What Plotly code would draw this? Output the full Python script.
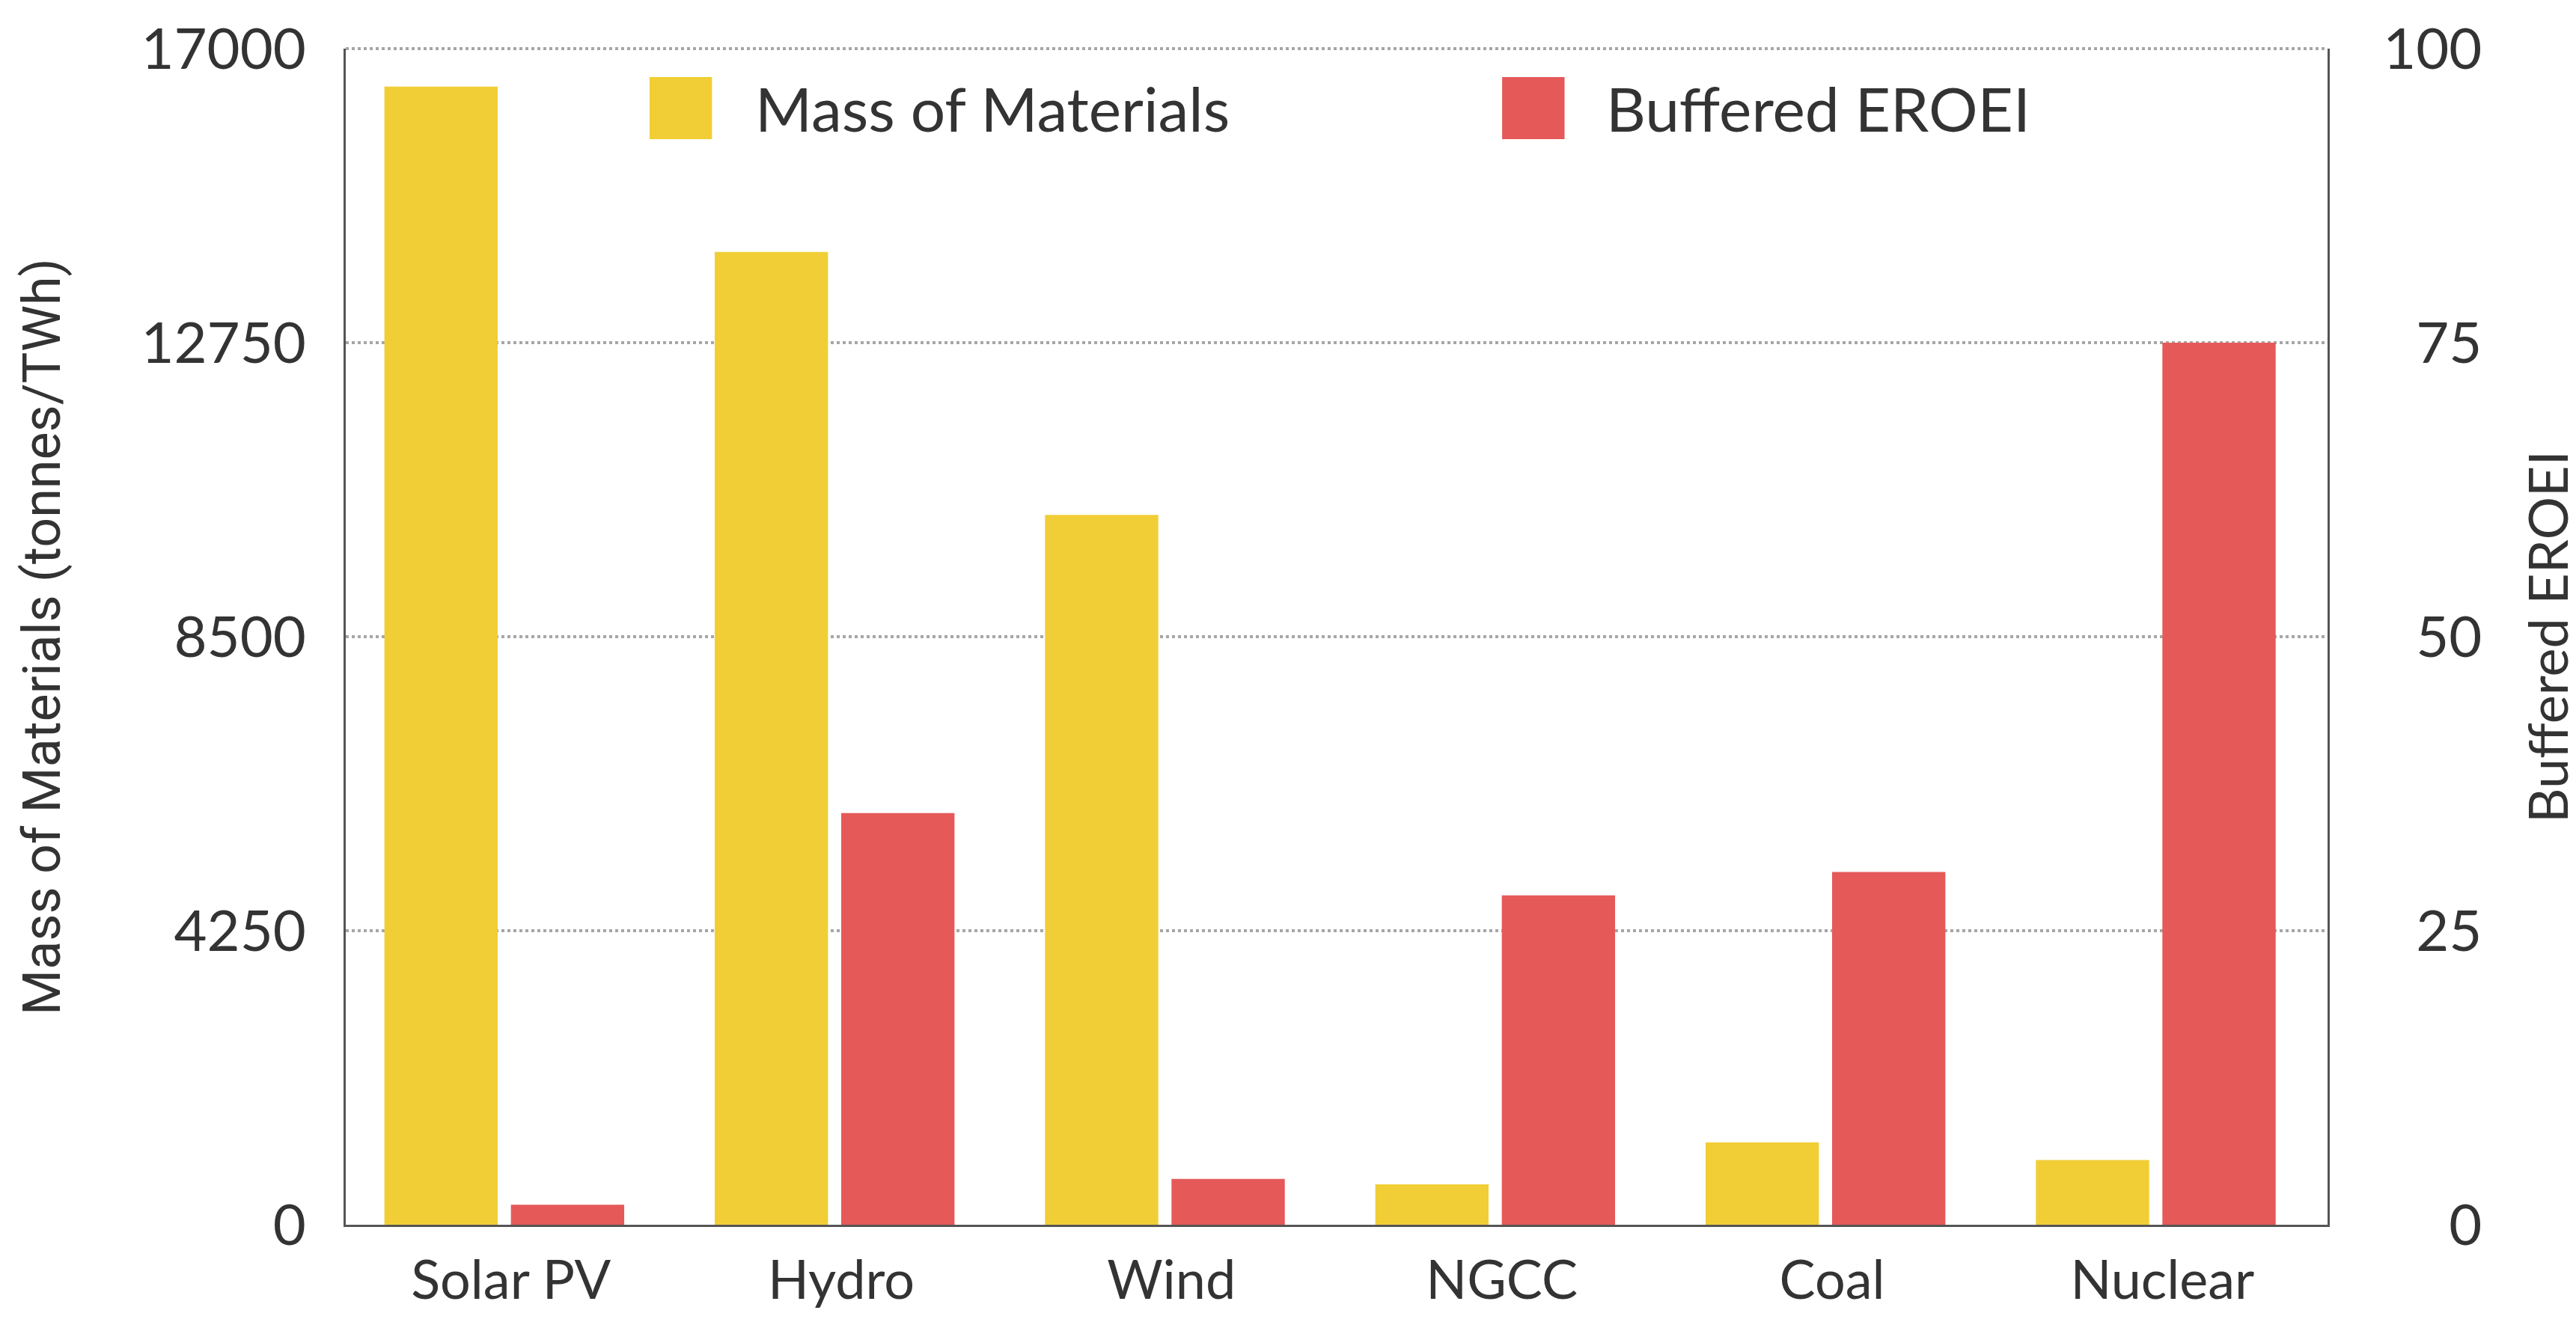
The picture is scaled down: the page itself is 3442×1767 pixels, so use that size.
import plotly.graph_objects as go

categories = ["Solar PV", "Hydro", "Wind", "NGCC", "Coal", "Nuclear"]
mass_materials = [16450, 14060, 10260, 585, 1190, 935]
buffered_eroei = [1.7, 35, 3.9, 28, 30, 75]

left_ticks = [0, 4250, 8500, 12750, 17000]
right_ticks = [0, 25, 50, 75, 100]
right_ticktext = ["\u2007\u20070", "\u200725", "\u200750", "\u200775", "100"]

YELLOW = "#F1CE36"
RED = "#E55A59"
TEXT = "#333333"
AXIS = "#555555"
GRID = "#a6a6a6"
FONT = "Lato"

fig = go.Figure()
fig.add_trace(go.Bar(
    x=categories, y=mass_materials, name="Mass of Materials",
    marker=dict(color=YELLOW, line=dict(width=0)),
    width=0.343, offset=-0.383, yaxis="y", showlegend=False,
))
fig.add_trace(go.Bar(
    x=categories, y=buffered_eroei, name="Buffered EROEI",
    marker=dict(color=RED, line=dict(width=0)),
    width=0.343, offset=0.0, yaxis="y2", showlegend=False,
))

fig.update_layout(
    width=3442, height=1767,
    margin=dict(l=454, r=340, t=57, b=138, autoexpand=False),
    paper_bgcolor="white", plot_bgcolor="white",
    font=dict(family=FONT, color=TEXT, size=74),
    showlegend=False,
    xaxis=dict(
        showline=True, linecolor=AXIS, linewidth=3, ticks="",
        showgrid=False, tickfont=dict(size=72, family=FONT, color=TEXT),
        ticklabelstandoff=10,
    ),
    yaxis=dict(
        range=[0, 17000], tickvals=left_ticks, ticktext=[str(v) for v in left_ticks],
        showline=True, linecolor=AXIS, linewidth=3, ticks="",
        showgrid=True, gridcolor=GRID, gridwidth=4, griddash="dot",
        zeroline=False, tickfont=dict(size=76, family=FONT, color=TEXT),
        ticklabelstandoff=35,
        title=dict(text="Mass of Materials (tonnes/TWh)",
                   font=dict(family="Roboto", size=70, color=TEXT), standoff=85),
        automargin=False,
    ),
    yaxis2=dict(
        range=[0, 100], tickvals=right_ticks, ticktext=right_ticktext,
        overlaying="y", side="right",
        showline=True, linecolor=AXIS, linewidth=3, ticks="",
        showgrid=False, zeroline=False,
        tickfont=dict(size=76, family=FONT, color=TEXT),
        ticklabelstandoff=56,
        title=dict(text="Buffered EROEI",
                   font=dict(family=FONT, size=72, color=TEXT), standoff=66),
        automargin=False,
    ),
)

# dotted gridline along the top edge of the plot (17000 / 100)
fig.add_shape(type="line", xref="paper", yref="paper", x0=0, x1=1,
              y0=1, y1=1,
              line=dict(color=GRID, width=4, dash="dot"), layer="above")

# Legend drawn with large swatches
legend_items = [("Mass of Materials", YELLOW, 0.1533, 0.2058),
                ("Buffered EROEI", RED, 0.5835, 0.6352)]
for label, color, sx, tx in legend_items:
    fig.add_shape(type="rect", xref="paper", yref="paper",
                  x0=sx, x1=sx + 0.0315, y0=0.923, y1=0.9758,
                  fillcolor=color, line=dict(width=0))
    fig.add_annotation(x=tx, y=0.9497, xref="paper", yref="paper",
                       text=label, showarrow=False, xanchor="left", yanchor="middle",
                       font=dict(family=FONT, size=82, color=TEXT))

fig.write_html("out.html")
